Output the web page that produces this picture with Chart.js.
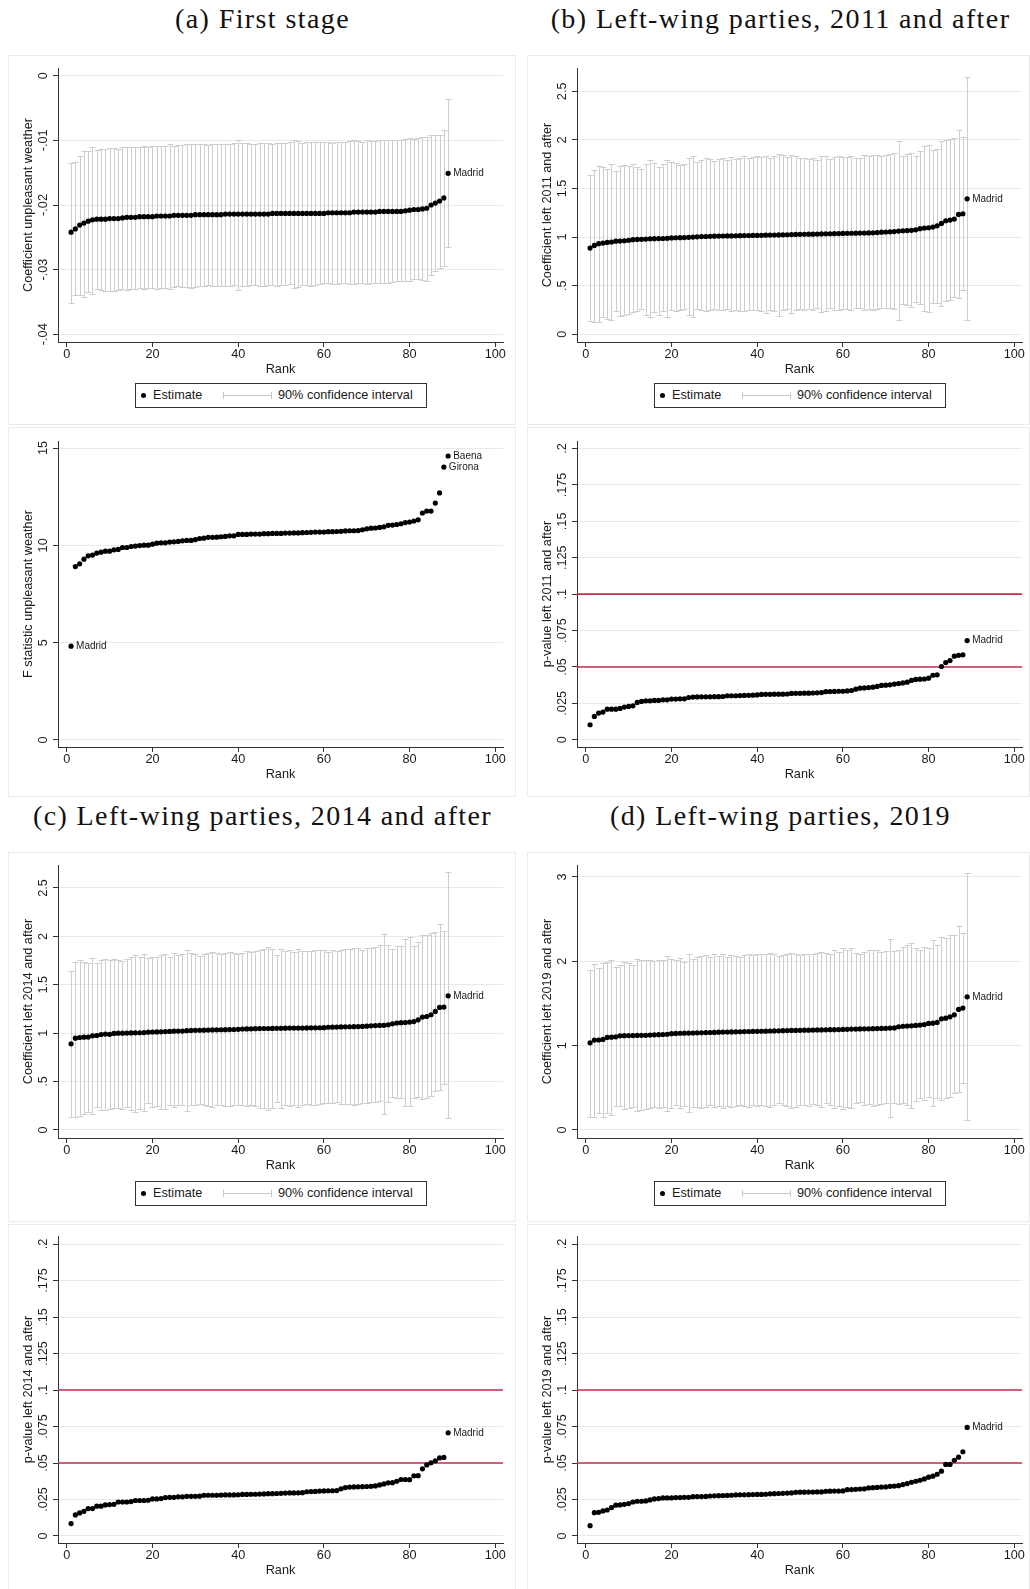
<!DOCTYPE html>
<html>
<head>
<meta charset="utf-8">
<script src="https://cdn.jsdelivr.net/npm/chart.js@4.4.1/dist/chart.umd.min.js"></script>
<style>
  body { margin: 0; background: #fff; width: 1030px; height: 1589px; position: relative; overflow: hidden;
         font-family: "Liberation Sans", Arial, sans-serif; color: #1a1a1a; }
  .title { position: absolute; width: 515px; text-align: center; white-space: nowrap; line-height: 30px;
           font-family: "Liberation Serif", "Times New Roman", serif; font-size: 28px; letter-spacing: 1.4px; color: #111; }
  .box { position: absolute; border: 1px solid #ebebeb; box-sizing: border-box; }
  .box canvas { position: absolute; left: -1px; top: -1px; }
  .legend { position: absolute; width: 292px; height: 25px; border: 1px solid #333; box-sizing: border-box;
            background: #fff; font-size: 12.7px; }
  .legend .txt { position: absolute; top: 0; line-height: 23px; white-space: nowrap; }
  .legend .dot { position: absolute; left: 5px; top: 9px; width: 5px; height: 5px; border-radius: 50%; background: #000; }
  .legend .ci { position: absolute; left: 87px; top: 8px; width: 49px; height: 7px; box-sizing: border-box;
                border-left: 1px solid #c8c8c8; border-right: 1px solid #c8c8c8; }
  .legend .ci::after { content: ""; position: absolute; left: 0; right: 0; top: 3px; border-top: 1px solid #c8c8c8; }
</style>
</head>
<body>

<div class="title" style="left:5px;top:4px">(a) First stage</div>
<div class="title" style="left:523px;top:4px">(b) Left-wing parties, 2011 and after</div>
<div class="title" style="left:5px;top:801px">(c) Left-wing parties, 2014 and after</div>
<div class="title" style="left:523px;top:801px">(d) Left-wing parties, 2019</div>

<div class="box" style="left:8px;top:55px;width:508px;height:370px"><canvas id="a1" width="508" height="370"></canvas>
  <div class="legend" style="left:126px;top:327px"><span class="dot"></span><span class="txt" style="left:17px">Estimate</span><span class="ci"></span><span class="txt" style="left:142px">90% confidence interval</span></div></div>
<div class="box" style="left:8px;top:427px;width:508px;height:370px"><canvas id="a2" width="508" height="370"></canvas></div>
<div class="box" style="left:527px;top:55px;width:503px;height:370px"><canvas id="b1" width="503" height="370"></canvas>
  <div class="legend" style="left:126px;top:327px"><span class="dot"></span><span class="txt" style="left:17px">Estimate</span><span class="ci"></span><span class="txt" style="left:142px">90% confidence interval</span></div></div>
<div class="box" style="left:527px;top:427px;width:503px;height:370px"><canvas id="b2" width="503" height="370"></canvas></div>
<div class="box" style="left:8px;top:852px;width:508px;height:370px"><canvas id="c1" width="508" height="370"></canvas>
  <div class="legend" style="left:126px;top:328px"><span class="dot"></span><span class="txt" style="left:17px">Estimate</span><span class="ci"></span><span class="txt" style="left:142px">90% confidence interval</span></div></div>
<div class="box" style="left:8px;top:1224px;width:508px;height:370px"><canvas id="c2" width="508" height="370"></canvas></div>
<div class="box" style="left:527px;top:852px;width:503px;height:370px"><canvas id="d1" width="503" height="370"></canvas>
  <div class="legend" style="left:126px;top:328px"><span class="dot"></span><span class="txt" style="left:17px">Estimate</span><span class="ci"></span><span class="txt" style="left:142px">90% confidence interval</span></div></div>
<div class="box" style="left:527px;top:1224px;width:503px;height:370px"><canvas id="d2" width="503" height="370"></canvas></div>

<script>
// --- data ---
const rank = [1,2,3,4,5,6,7,8,9,10,11,12,13,14,15,16,17,18,19,20,21,22,23,24,25,26,27,28,29,30,
  31,32,33,34,35,36,37,38,39,40,41,42,43,44,45,46,47,48,49,50,51,52,53,54,55,56,57,58,59,60,
  61,62,63,64,65,66,67,68,69,70,71,72,73,74,75,76,77,78,79,80,81,82,83,84,85,86,87,88,89];

const xTickVals = [0, 20, 40, 60, 80, 100];

// (a) first stage
const estA = [-0.0242,-0.0237,-0.0231,-0.0228,-0.0225,-0.0223,-0.0222,-0.0222,-0.0222,-0.0221,
  -0.0221,-0.0221,-0.0220,-0.0219,-0.0219,-0.0219,-0.0218,-0.0218,-0.0218,-0.0218,
  -0.0217,-0.0217,-0.0217,-0.0217,-0.0216,-0.0216,-0.0216,-0.0216,-0.0216,-0.0215,
  -0.0215,-0.0215,-0.0215,-0.0215,-0.0215,-0.0215,-0.0214,-0.0214,-0.0214,-0.0214,
  -0.0214,-0.0214,-0.0214,-0.0214,-0.0214,-0.0214,-0.0214,-0.0213,-0.0213,-0.0213,
  -0.0213,-0.0213,-0.0213,-0.0213,-0.0213,-0.0213,-0.0213,-0.0213,-0.0213,-0.0213,
  -0.0212,-0.0212,-0.0212,-0.0212,-0.0212,-0.0212,-0.0211,-0.0211,-0.0211,-0.0211,
  -0.0211,-0.0211,-0.0210,-0.0210,-0.0210,-0.0210,-0.0210,-0.0210,-0.0209,-0.0208,
  -0.0207,-0.0207,-0.0206,-0.0205,-0.0200,-0.0197,-0.0194,-0.0189,-0.0151];
const hiA = [-0.0135,-0.0134,-0.0124,-0.0116,-0.0117,-0.0111,-0.0115,-0.0114,-0.0113,-0.0112,
  -0.0112,-0.0113,-0.0111,-0.0111,-0.0111,-0.0110,-0.0110,-0.0109,-0.0110,-0.0109,
  -0.0108,-0.0109,-0.0108,-0.0106,-0.0108,-0.0107,-0.0107,-0.0106,-0.0106,-0.0106,
  -0.0105,-0.0106,-0.0107,-0.0106,-0.0106,-0.0106,-0.0105,-0.0105,-0.0104,-0.0100,
  -0.0104,-0.0104,-0.0105,-0.0105,-0.0104,-0.0104,-0.0104,-0.0105,-0.0104,-0.0104,
  -0.0104,-0.0103,-0.0100,-0.0101,-0.0104,-0.0102,-0.0103,-0.0102,-0.0102,-0.0103,
  -0.0103,-0.0104,-0.0103,-0.0103,-0.0102,-0.0101,-0.0100,-0.0101,-0.0102,-0.0100,
  -0.0101,-0.0101,-0.0100,-0.0099,-0.0100,-0.0100,-0.0099,-0.0100,-0.0098,-0.0096,
  -0.0098,-0.0097,-0.0095,-0.0094,-0.0092,-0.0091,-0.0091,-0.0084,-0.0036];
const loA = [-0.0351,-0.0340,-0.0340,-0.0342,-0.0335,-0.0338,-0.0330,-0.0332,-0.0333,-0.0333,
  -0.0333,-0.0331,-0.0330,-0.0331,-0.0330,-0.0330,-0.0329,-0.0330,-0.0328,-0.0329,
  -0.0330,-0.0328,-0.0329,-0.0330,-0.0327,-0.0326,-0.0327,-0.0327,-0.0328,-0.0327,
  -0.0325,-0.0326,-0.0324,-0.0325,-0.0325,-0.0326,-0.0325,-0.0325,-0.0324,-0.0331,
  -0.0326,-0.0325,-0.0324,-0.0324,-0.0325,-0.0325,-0.0324,-0.0324,-0.0325,-0.0324,
  -0.0324,-0.0323,-0.0329,-0.0327,-0.0324,-0.0324,-0.0325,-0.0324,-0.0323,-0.0321,
  -0.0321,-0.0322,-0.0322,-0.0321,-0.0321,-0.0322,-0.0323,-0.0321,-0.0320,-0.0322,
  -0.0321,-0.0320,-0.0320,-0.0321,-0.0320,-0.0319,-0.0318,-0.0318,-0.0317,-0.0318,
  -0.0315,-0.0315,-0.0316,-0.0317,-0.0308,-0.0302,-0.0297,-0.0294,-0.0265];
const fStatA = [4.82,8.91,9.05,9.29,9.46,9.50,9.60,9.65,9.70,9.70,
  9.77,9.79,9.89,9.89,9.94,9.96,9.99,10.01,10.01,10.06,
  10.11,10.13,10.13,10.17,10.18,10.20,10.23,10.25,10.25,10.29,
  10.35,10.37,10.41,10.41,10.42,10.44,10.46,10.49,10.49,10.56,
  10.56,10.56,10.58,10.58,10.58,10.60,10.60,10.61,10.61,10.61,
  10.63,10.63,10.64,10.64,10.65,10.66,10.67,10.68,10.68,10.68,
  10.70,10.70,10.71,10.72,10.74,10.75,10.75,10.76,10.80,10.85,
  10.88,10.89,10.92,10.95,11.03,11.04,11.07,11.11,11.17,11.20,
  11.25,11.31,11.66,11.76,11.76,12.17,12.69,14.02,14.59];

// (b) left-wing 2011 and after
const estB = [0.887,0.914,0.932,0.938,0.945,0.949,0.958,0.959,0.962,0.966,
  0.973,0.976,0.977,0.979,0.982,0.983,0.984,0.985,0.987,0.991,
  0.993,0.994,0.995,0.997,1.000,1.002,1.005,1.006,1.008,1.009,
  1.010,1.011,1.012,1.012,1.013,1.014,1.015,1.016,1.017,1.017,
  1.018,1.019,1.020,1.021,1.022,1.023,1.024,1.026,1.027,1.028,
  1.029,1.030,1.030,1.031,1.032,1.033,1.034,1.035,1.036,1.037,
  1.038,1.039,1.040,1.041,1.042,1.043,1.044,1.046,1.050,1.052,
  1.054,1.057,1.062,1.065,1.067,1.069,1.075,1.086,1.092,1.096,
  1.103,1.116,1.140,1.168,1.175,1.185,1.233,1.240,1.394];
const hiB = [1.636,1.694,1.728,1.716,1.705,1.750,1.680,1.730,1.737,1.730,
  1.750,1.720,1.705,1.757,1.790,1.760,1.720,1.757,1.790,1.770,
  1.765,1.740,1.757,1.810,1.830,1.770,1.790,1.810,1.800,1.785,
  1.800,1.810,1.790,1.820,1.800,1.810,1.830,1.810,1.820,1.830,
  1.820,1.836,1.818,1.830,1.850,1.840,1.820,1.840,1.835,1.810,
  1.815,1.800,1.810,1.790,1.830,1.835,1.800,1.820,1.830,1.820,
  1.825,1.830,1.815,1.810,1.840,1.835,1.845,1.840,1.835,1.840,
  1.850,1.870,1.990,1.830,1.850,1.870,1.830,1.890,1.940,1.950,
  1.900,1.910,1.990,2.000,2.010,2.020,2.100,2.030,2.650];
const loB = [0.137,0.130,0.127,0.180,0.156,0.146,0.240,0.190,0.200,0.205,
  0.230,0.235,0.260,0.200,0.180,0.230,0.200,0.235,0.180,0.250,
  0.235,0.250,0.255,0.200,0.180,0.255,0.250,0.235,0.245,0.255,
  0.250,0.250,0.255,0.235,0.245,0.235,0.235,0.250,0.245,0.250,
  0.235,0.220,0.250,0.240,0.190,0.245,0.255,0.220,0.245,0.255,
  0.250,0.260,0.250,0.270,0.230,0.240,0.265,0.250,0.245,0.255,
  0.255,0.250,0.270,0.275,0.250,0.255,0.250,0.260,0.265,0.270,
  0.265,0.260,0.150,0.310,0.300,0.280,0.330,0.315,0.240,0.230,
  0.325,0.325,0.290,0.340,0.350,0.380,0.377,0.460,0.144];
const pValB = [0.0103,0.0160,0.0183,0.0190,0.0210,0.0210,0.0210,0.0215,0.0224,0.0229,
  0.0233,0.0256,0.0263,0.0267,0.0267,0.0270,0.0270,0.0274,0.0274,0.0279,
  0.0279,0.0281,0.0281,0.0290,0.0293,0.0294,0.0295,0.0295,0.0295,0.0296,
  0.0296,0.0297,0.0302,0.0302,0.0302,0.0303,0.0304,0.0305,0.0306,0.0308,
  0.0311,0.0312,0.0312,0.0313,0.0313,0.0313,0.0314,0.0318,0.0319,0.0319,
  0.0320,0.0320,0.0321,0.0322,0.0324,0.0330,0.0331,0.0332,0.0333,0.0333,
  0.0335,0.0338,0.0347,0.0354,0.0356,0.0358,0.0361,0.0366,0.0373,0.0375,
  0.0377,0.0382,0.0386,0.0390,0.0395,0.0407,0.0414,0.0416,0.0417,0.0423,
  0.0443,0.0446,0.0503,0.0530,0.0544,0.0574,0.0580,0.0583,0.0681];

// (c) left-wing 2014 and after
const estC = [0.890,0.948,0.955,0.959,0.960,0.972,0.976,0.986,0.990,0.988,
  0.997,1.000,1.000,1.001,1.002,1.003,1.004,1.006,1.010,1.012,
  1.013,1.014,1.016,1.018,1.020,1.021,1.022,1.026,1.028,1.029,
  1.030,1.031,1.032,1.033,1.034,1.035,1.036,1.037,1.038,1.040,
  1.043,1.044,1.045,1.046,1.047,1.048,1.048,1.049,1.050,1.050,
  1.051,1.052,1.052,1.053,1.053,1.054,1.055,1.055,1.056,1.057,
  1.061,1.062,1.063,1.064,1.065,1.066,1.067,1.068,1.070,1.072,
  1.076,1.078,1.080,1.081,1.086,1.097,1.105,1.108,1.110,1.114,
  1.120,1.138,1.166,1.172,1.190,1.224,1.266,1.269,1.386];
const hiC = [1.645,1.740,1.760,1.740,1.720,1.775,1.720,1.760,1.765,1.760,
  1.765,1.760,1.750,1.765,1.786,1.810,1.790,1.820,1.775,1.786,
  1.790,1.810,1.820,1.790,1.830,1.810,1.820,1.855,1.830,1.820,
  1.800,1.820,1.830,1.835,1.830,1.820,1.830,1.840,1.830,1.820,
  1.830,1.845,1.840,1.850,1.860,1.870,1.886,1.870,1.810,1.870,
  1.850,1.860,1.840,1.870,1.850,1.850,1.850,1.860,1.855,1.860,
  1.840,1.855,1.850,1.860,1.870,1.870,1.875,1.880,1.860,1.880,
  1.880,1.890,1.914,2.024,1.914,1.870,1.905,1.900,1.970,1.990,
  1.905,1.945,2.017,2.010,2.035,2.050,2.130,2.060,2.666];
const loC = [0.138,0.138,0.145,0.170,0.190,0.165,0.240,0.210,0.210,0.220,
  0.230,0.228,0.220,0.240,0.210,0.190,0.220,0.200,0.276,0.240,
  0.248,0.220,0.220,0.255,0.240,0.255,0.255,0.200,0.255,0.255,
  0.265,0.255,0.250,0.240,0.255,0.260,0.250,0.245,0.255,0.260,
  0.255,0.250,0.255,0.250,0.225,0.230,0.210,0.225,0.290,0.224,
  0.255,0.245,0.260,0.240,0.260,0.265,0.260,0.255,0.265,0.275,
  0.280,0.275,0.285,0.270,0.265,0.270,0.260,0.265,0.275,0.280,
  0.285,0.290,0.300,0.165,0.290,0.345,0.330,0.335,0.248,0.250,
  0.335,0.345,0.317,0.330,0.350,0.400,0.410,0.476,0.120];
const pValC = [0.0085,0.0144,0.0158,0.0169,0.0188,0.0188,0.0204,0.0204,0.0213,0.0215,
  0.0217,0.0233,0.0233,0.0233,0.0236,0.0243,0.0243,0.0243,0.0245,0.0254,
  0.0254,0.0256,0.0263,0.0265,0.0265,0.0268,0.0268,0.0272,0.0272,0.0272,
  0.0273,0.0279,0.0279,0.0279,0.0279,0.0280,0.0281,0.0281,0.0281,0.0282,
  0.0285,0.0285,0.0286,0.0286,0.0287,0.0288,0.0290,0.0290,0.0291,0.0292,
  0.0294,0.0295,0.0295,0.0296,0.0297,0.0303,0.0304,0.0305,0.0308,0.0309,
  0.0310,0.0310,0.0311,0.0323,0.0332,0.0335,0.0336,0.0337,0.0338,0.0339,
  0.0340,0.0343,0.0350,0.0357,0.0364,0.0365,0.0375,0.0387,0.0387,0.0386,
  0.0412,0.0413,0.0460,0.0487,0.0501,0.0515,0.0535,0.0538,0.0707];

// (d) left-wing 2019
const estD = [1.034,1.066,1.067,1.074,1.098,1.101,1.105,1.117,1.118,1.119,
  1.120,1.121,1.122,1.123,1.125,1.128,1.130,1.132,1.135,1.142,
  1.145,1.147,1.148,1.149,1.150,1.152,1.153,1.155,1.156,1.157,
  1.160,1.161,1.162,1.163,1.164,1.165,1.167,1.168,1.169,1.170,
  1.171,1.172,1.174,1.175,1.176,1.178,1.179,1.180,1.181,1.182,
  1.183,1.184,1.185,1.186,1.187,1.188,1.189,1.190,1.191,1.192,
  1.194,1.196,1.197,1.198,1.199,1.200,1.201,1.203,1.204,1.206,
  1.208,1.210,1.224,1.230,1.232,1.235,1.240,1.244,1.250,1.263,
  1.267,1.275,1.318,1.326,1.342,1.366,1.430,1.445,1.579];
const hiD = [1.895,1.974,1.915,1.982,1.994,2.013,1.927,1.954,1.994,1.982,
  1.954,2.033,2.021,2.013,2.013,2.006,2.013,2.021,2.061,2.033,
  2.013,2.041,1.994,2.084,2.033,2.053,2.061,2.073,2.053,2.081,
  2.061,2.084,2.053,2.073,2.061,2.053,2.073,2.092,2.073,2.084,
  2.092,2.084,2.100,2.092,2.061,2.073,2.092,2.100,2.092,2.073,
  2.084,2.092,2.092,2.100,2.112,2.100,2.092,2.132,2.112,2.152,
  2.132,2.152,2.100,2.092,2.112,2.132,2.140,2.132,2.112,2.124,
  2.270,2.124,2.140,2.171,2.191,2.219,2.152,2.132,2.171,2.152,
  2.258,2.191,2.290,2.282,2.310,2.317,2.420,2.337,3.052];
const loD = [0.158,0.158,0.205,0.150,0.197,0.178,0.284,0.284,0.245,0.257,
  0.276,0.225,0.237,0.245,0.257,0.276,0.257,0.268,0.225,0.257,
  0.296,0.257,0.284,0.217,0.276,0.276,0.257,0.276,0.296,0.268,
  0.284,0.257,0.284,0.276,0.284,0.296,0.284,0.268,0.296,0.284,
  0.296,0.284,0.276,0.296,0.316,0.296,0.284,0.257,0.276,0.296,
  0.296,0.284,0.308,0.296,0.276,0.316,0.296,0.257,0.284,0.245,
  0.276,0.257,0.316,0.336,0.296,0.308,0.284,0.296,0.308,0.316,
  0.158,0.324,0.308,0.316,0.296,0.257,0.347,0.375,0.355,0.395,
  0.284,0.375,0.355,0.375,0.395,0.434,0.446,0.560,0.118];
const pValD = [0.0071,0.0160,0.0162,0.0172,0.0178,0.0195,0.0211,0.0213,0.0217,0.0222,
  0.0233,0.0238,0.0238,0.0240,0.0247,0.0254,0.0256,0.0261,0.0261,0.0261,
  0.0263,0.0263,0.0265,0.0265,0.0269,0.0270,0.0270,0.0271,0.0274,0.0275,
  0.0276,0.0277,0.0278,0.0279,0.0281,0.0282,0.0282,0.0283,0.0284,0.0285,
  0.0285,0.0286,0.0289,0.0290,0.0291,0.0292,0.0294,0.0295,0.0299,0.0300,
  0.0300,0.0301,0.0301,0.0302,0.0302,0.0306,0.0307,0.0308,0.0308,0.0309,
  0.0317,0.0318,0.0320,0.0322,0.0323,0.0329,0.0331,0.0333,0.0335,0.0336,
  0.0340,0.0342,0.0345,0.0352,0.0359,0.0368,0.0375,0.0382,0.0391,0.0403,
  0.0410,0.0423,0.0444,0.0490,0.0490,0.0519,0.0540,0.0577,0.0744];

// y-axis ticks
const coefTicksA = [-0.04, -0.03, -0.02, -0.01, 0];
const fTicks = [0, 5, 10, 15];
const coefTicksBC = [0, 0.5, 1, 1.5, 2, 2.5];
const coefTicksD = [0, 1, 2, 3];
const pTicks = [0, 0.025, 0.05, 0.075, 0.1, 0.125, 0.15, 0.175, 0.2];
const pThresholds = [0.05, 0.1];

// --- drawing helpers ---
const FONT = '"Liberation Sans", Arial, sans-serif';
const INK = '#1a1a1a';
const AXIS = '#333';
const GRID = 'rgb(226,235,238)';
const CI_COLOR = '#cdcdcd';
const RED = 'rgb(200,45,80)';
const X_MIN = -2.05, X_MAX = 101.8;

// Stata style numbers: ".05" instead of "0.05"
function stataNum(v) {
    const s = String(Math.round(v * 10000) / 10000);
    return s.replace(/^(-?)0\./, '$1.');
}

function ciBars(lo, hi) {
    return {
        id: 'ciBars',
        beforeDatasetsDraw(chart) {
            const { ctx, scales: { x, y } } = chart;
            ctx.save();
            ctx.strokeStyle = CI_COLOR;
            ctx.lineWidth = 1;
            ctx.beginPath();
            lo.forEach((v, i) => {
                const px = Math.round(x.getPixelForValue(rank[i])) + 0.5;
                const y1 = Math.round(y.getPixelForValue(v)) + 0.5;
                const y2 = Math.round(y.getPixelForValue(hi[i])) + 0.5;
                ctx.moveTo(px, y1); ctx.lineTo(px, y2);
                ctx.moveTo(px - 3, y1); ctx.lineTo(px + 3, y1);
                ctx.moveTo(px - 3, y2); ctx.lineTo(px + 3, y2);
            });
            ctx.stroke();
            ctx.restore();
        }
    };
}

// rotated y tick labels, as Stata prints them
const yTickText = {
    id: 'yTickText',
    afterDraw(chart) {
        const s = chart.scales.y, ctx = chart.ctx;
        ctx.save();
        ctx.fillStyle = INK;
        ctx.font = '12.7px ' + FONT;
        ctx.textAlign = 'center';
        ctx.textBaseline = 'middle';
        s.ticks.forEach(t => {
            ctx.save();
            ctx.translate(chart.chartArea.left - 15, s.getPixelForValue(t.value));
            ctx.rotate(-Math.PI / 2);
            ctx.fillText(stataNum(t.value), 0, 0);
            ctx.restore();
        });
        ctx.restore();
    }
};

function pointNotes(notes, values) {
    return {
        id: 'pointNotes',
        afterDatasetsDraw(chart) {
            const { ctx, scales: { x, y } } = chart;
            ctx.save();
            ctx.fillStyle = INK;
            ctx.font = '10px ' + FONT;
            ctx.textAlign = 'left';
            ctx.textBaseline = 'middle';
            notes.forEach(n => {
                ctx.fillText(n.text, x.getPixelForValue(rank[n.i]) + 5, y.getPixelForValue(values[n.i]));
            });
            ctx.restore();
        }
    };
}

function buildPanel(id, g, s) {
    const canvas = document.getElementById(id);
    const W = canvas.width, H = canvas.height;
    const datasets = [{
        data: rank.map((r, i) => ({ x: r, y: s.values[i] })),
        pointRadius: 2.6, pointBackgroundColor: '#000', pointBorderWidth: 0, showLine: false
    }];
    (s.refLines || []).forEach(v => datasets.push({
        data: [{ x: X_MIN, y: v }, { x: X_MAX, y: v }],
        showLine: true, borderColor: RED, borderWidth: 1.6, pointRadius: 0
    }));
    const plugins = [yTickText, pointNotes(s.notes, s.values)];
    if (s.lo) plugins.unshift(ciBars(s.lo, s.hi));

    new Chart(canvas, {
        type: 'scatter',
        data: { datasets },
        plugins,
        options: {
            responsive: false, animation: false, devicePixelRatio: 1,
            layout: { padding: { left: 0, top: g.plotTop, right: W - 495, bottom: 0 } },
            plugins: { legend: { display: false }, tooltip: { enabled: false } },
            scales: {
                x: {
                    type: 'linear', min: X_MIN, max: X_MAX,
                    afterBuildTicks: sc => { sc.ticks = xTickVals.map(v => ({ value: v })); },
                    afterFit: sc => { sc.height = H - g.plotBottom; },
                    grid: { drawOnChartArea: false, drawTicks: true, tickLength: 5, tickColor: AXIS },
                    border: { display: true, color: AXIS, width: 1 },
                    ticks: { color: INK, font: { family: FONT, size: 12.7, lineHeight: 1 }, padding: 1,
                             maxRotation: 0, autoSkip: false },
                    title: { display: true, text: 'Rank', color: INK,
                             font: { family: FONT, size: 12.7, lineHeight: 1 },
                             padding: { top: 0, bottom: H - g.plotBottom - 27.5 - 6.35 } }
                },
                y: {
                    type: 'linear', min: s.yMin, max: s.yMax,
                    afterBuildTicks: sc => { sc.ticks = s.yTicks.map(v => ({ value: v })); },
                    afterFit: sc => { sc.width = 50; },
                    grid: { color: GRID, lineWidth: 1, drawTicks: true, tickLength: 5, tickColor: AXIS },
                    border: { display: true, color: AXIS, width: 1 },
                    ticks: { display: false },
                    title: { display: true, text: s.yTitle, color: INK,
                             font: { family: FONT, size: 12.7, lineHeight: 1 },
                             padding: { top: 14, bottom: 0 } }
                }
            }
        }
    });
}

const topRow = { plotTop: 13, plotBottom: 287 };
const pRow = { plotTop: 14, plotBottom: 320 };
const topRow2 = { plotTop: 13, plotBottom: 286 };
const pRow2 = { plotTop: 12, plotBottom: 319 };

buildPanel('a1', topRow, { values: estA, lo: loA, hi: hiA, yMin: -0.0412, yMax: 0.0012, yTicks: coefTicksA,
    yTitle: 'Coefficient unpleasant weather', notes: [{ i: 88, text: 'Madrid' }] });
buildPanel('a2', pRow, { values: fStatA, yMin: -0.36, yMax: 15.36, yTicks: fTicks,
    yTitle: 'F statistic unpleasant weather',
    notes: [{ i: 0, text: 'Madrid' }, { i: 87, text: 'Girona' }, { i: 88, text: 'Baena' }] });
buildPanel('b1', topRow, { values: estB, lo: loB, hi: hiB, yMin: -0.08, yMax: 2.74, yTicks: coefTicksBC,
    yTitle: 'Coefficient left 2011 and after', notes: [{ i: 88, text: 'Madrid' }] });
buildPanel('b2', pRow, { values: pValB, yMin: -0.005, yMax: 0.2052, yTicks: pTicks, refLines: pThresholds,
    yTitle: 'p-value left 2011 and after', notes: [{ i: 88, text: 'Madrid' }] });
buildPanel('c1', topRow2, { values: estC, lo: loC, hi: hiC, yMin: -0.083, yMax: 2.737, yTicks: coefTicksBC,
    yTitle: 'Coefficient left 2014 and after', notes: [{ i: 88, text: 'Madrid' }] });
buildPanel('c2', pRow2, { values: pValC, yMin: -0.0048, yMax: 0.2055, yTicks: pTicks, refLines: pThresholds,
    yTitle: 'p-value left 2014 and after', notes: [{ i: 88, text: 'Madrid' }] });
buildPanel('d1', topRow2, { values: estD, lo: loD, hi: hiD, yMin: -0.095, yMax: 3.142, yTicks: coefTicksD,
    yTitle: 'Coefficient left 2019 and after', notes: [{ i: 88, text: 'Madrid' }] });
buildPanel('d2', pRow2, { values: pValD, yMin: -0.0048, yMax: 0.2055, yTicks: pTicks, refLines: pThresholds,
    yTitle: 'p-value left 2019 and after', notes: [{ i: 88, text: 'Madrid' }] });
</script>
</body>
</html>
